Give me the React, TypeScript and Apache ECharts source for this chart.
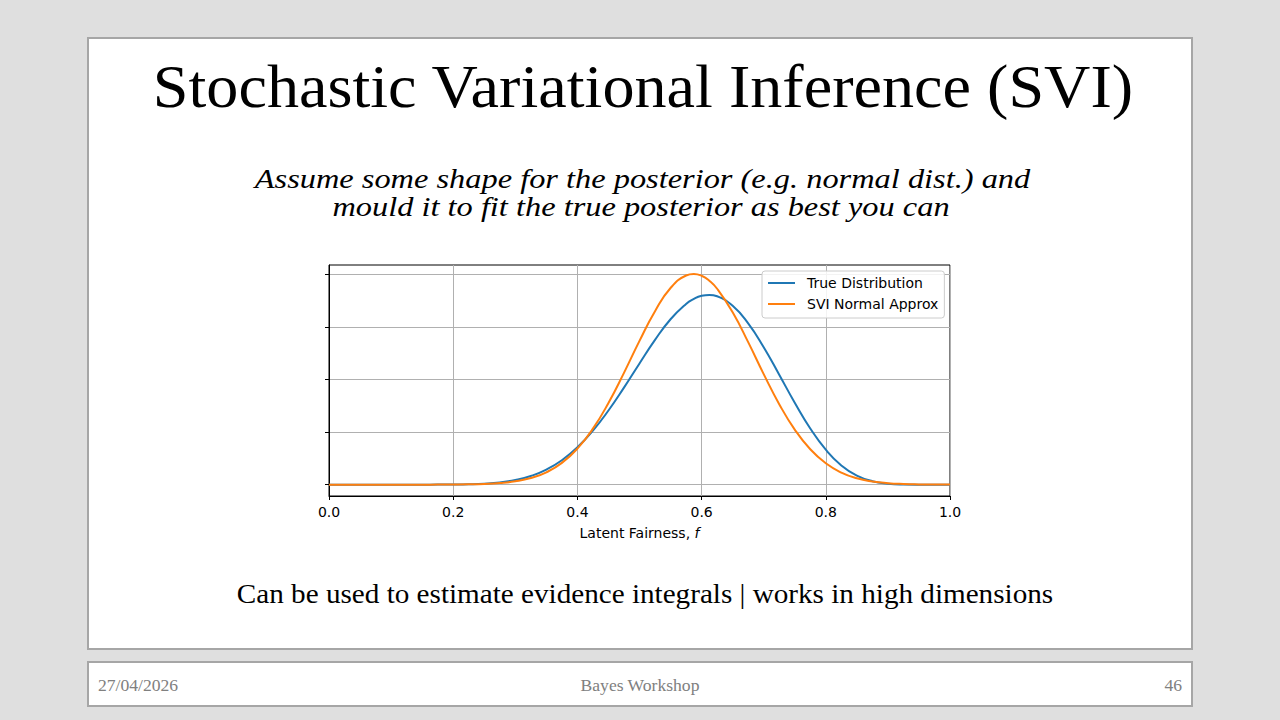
import React, { useEffect, useRef } from "react";
import * as echarts from "echarts";

// Latent fairness grid (x values)
const fairness = [
  0, 0.025, 0.05, 0.075, 0.1, 0.125, 0.15, 0.175, 0.2, 0.225, 0.25, 0.275, 0.3,
  0.325, 0.35, 0.375, 0.4, 0.425, 0.45, 0.475, 0.5, 0.525, 0.55, 0.575, 0.5875,
  0.6, 0.6125, 0.625, 0.65, 0.675, 0.7, 0.725, 0.75, 0.775, 0.8, 0.825, 0.85,
  0.875, 0.9, 0.925, 0.95, 0.975, 1.0,
];

// True Distribution (blue)
const trueDistribution = [
  0, 0, 0, 0, 0, 0, 0.0001, 0.0007, 0.0026, 0.0076, 0.0193, 0.0433, 0.0882,
  0.165, 0.286, 0.465, 0.71, 1.027, 1.411, 1.846, 2.307, 2.755, 3.148, 3.44, 3.535,
  3.594, 3.611, 3.585, 3.404, 3.069, 2.615, 2.092, 1.559, 1.069, 0.665, 0.366, 0.173,
  0.066, 0.019, 0.0034, 0.0003, 0, 0,
];

// SVI Normal Approx (orange)
const sviNormalApprox = [
  0, 0, 0, 0, 0, 0, 0.0003, 0.0008, 0.0021, 0.0054, 0.013, 0.0294, 0.0626,
  0.125, 0.235, 0.414, 0.686, 1.065, 1.554, 2.128, 2.736, 3.302, 3.742, 3.98, 4.01,
  3.975, 3.88, 3.728, 3.281, 2.712, 2.104, 1.532, 1.048, 0.673, 0.406, 0.23, 0.122,
  0.061, 0.0285, 0.0125, 0.0052, 0.002, 0.0007,
];

const xTickLabels = ["0.0", "0.2", "0.4", "0.6", "0.8", "1.0"];
const yTickValues = [0, 1, 2, 3, 4];
const seriesNames = ["True Distribution", "SVI Normal Approx"];

const serif = "'Liberation Serif', 'Times New Roman', serif";
const sans = "'DejaVu Sans', sans-serif";

function slideText(
  text: string,
  x: number,
  y: number,
  font: string,
  align: string,
  scaleX: number,
  fill = "#000"
) {
  return {
    type: "text",
    x,
    y,
    scaleX,
    style: { text, font, fill, align, verticalAlign: "middle" },
  };
}

export default function App() {
  const ref = useRef<HTMLDivElement>(null);
  useEffect(() => {
    const chart = echarts.init(ref.current!, null, { renderer: "svg" });
    const zip = (ys: number[]) => fairness.map((x, i) => [x, ys[i]]);
    chart.setOption({
      animation: false,
      backgroundColor: "#dfdfdf",
      graphic: [
        {
          type: "rect",
          z: -10,
          shape: { x: 88, y: 38, width: 1104, height: 611 },
          style: { fill: "#ffffff", stroke: "#a6a6a6", lineWidth: 2 },
        },
        {
          type: "rect",
          z: -10,
          shape: { x: 88, y: 662, width: 1104, height: 44 },
          style: { fill: "#ffffff", stroke: "#a6a6a6", lineWidth: 2 },
        },
        slideText("Stochastic Variational Inference (SVI)", 643, 86, `62px ${serif}`, "center", 1.035),
        slideText(
          "Assume some shape for the posterior (e.g. normal dist.) and",
          642.5,
          178,
          `italic 27px ${serif}`,
          "center",
          1.2
        ),
        slideText(
          "mould it to fit the true posterior as best you can",
          641,
          206,
          `italic 27px ${serif}`,
          "center",
          1.2
        ),
        slideText(
          "Can be used to estimate evidence integrals | works in high dimensions",
          645,
          594,
          `27px ${serif}`,
          "center",
          1.08
        ),
        slideText("27/04/2026", 98, 686, `16px ${serif}`, "left", 1.1, "#808080"),
        slideText("Bayes Workshop", 640, 686, `16px ${serif}`, "center", 1.1, "#808080"),
        slideText("46", 1182, 686, `16px ${serif}`, "right", 1.1, "#808080"),
      ],
      grid: {
        left: 329,
        top: 265,
        width: 621,
        height: 231,
        show: true,
        backgroundColor: "#ffffff",
        borderColor: "#000000",
        borderWidth: 1,
      },
      legend: {
        data: seriesNames,
        orient: "vertical",
        left: 762,
        top: 271,
        padding: [5, 6, 7, 6],
        icon: "rect",
        itemWidth: 27,
        itemHeight: 2,
        itemGap: 7,
        backgroundColor: "rgba(255,255,255,0.85)",
        borderColor: "#cccccc",
        borderWidth: 1,
        borderRadius: 3,
        textStyle: { fontFamily: sans, fontSize: 14, color: "#000", padding: [0, 0, 0, 7] },
      },
      xAxis: {
        type: "value",
        min: 0,
        max: 1,
        interval: 0.2,
        name: "{a|Latent Fairness, }{b|f}",
        nameLocation: "middle",
        nameGap: 30,
        nameTextStyle: {
          rich: {
            a: { fontFamily: sans, fontSize: 14, color: "#000" },
            b: { fontFamily: sans, fontSize: 14, color: "#000", fontStyle: "italic" },
          },
        },
        axisLine: { show: true, onZero: false, lineStyle: { color: "#000", width: 1 } },
        axisTick: { show: true, inside: false, length: 4, lineStyle: { color: "#000" } },
        axisLabel: {
          show: true,
          margin: 9,
          fontFamily: sans,
          fontSize: 14,
          color: "#000",
          formatter: (v: number) => xTickLabels[Math.round(v / 0.2)] ?? "",
        },
        splitLine: { show: true, lineStyle: { color: "#b0b0b0", width: 1 } },
      },
      yAxis: {
        type: "value",
        min: -0.216,
        max: 4.18,
        axisLine: { show: true, onZero: false, lineStyle: { color: "#000", width: 1 } },
        axisTick: {
          show: true,
          inside: false,
          length: 4,
          customValues: yTickValues,
          lineStyle: { color: "#000" },
        },
        axisLabel: { show: false, customValues: yTickValues },
        splitLine: { show: true, lineStyle: { color: "#b0b0b0", width: 1 } },
      },
      series: [
        {
          name: seriesNames[0],
          type: "line",
          data: zip(trueDistribution),
          smooth: true,
          symbol: "none",
          lineStyle: { color: "#1f77b4", width: 2 },
          itemStyle: { color: "#1f77b4" },
        },
        {
          name: seriesNames[1],
          type: "line",
          data: zip(sviNormalApprox),
          smooth: true,
          symbol: "none",
          lineStyle: { color: "#ff7f0e", width: 2 },
          itemStyle: { color: "#ff7f0e" },
        },
      ],
    });
    return () => chart.dispose();
  }, []);
  return (
    <div
      ref={ref}
      style={{ position: "fixed", left: 0, top: 0, width: 1280, height: 720 }}
    />
  );
}
